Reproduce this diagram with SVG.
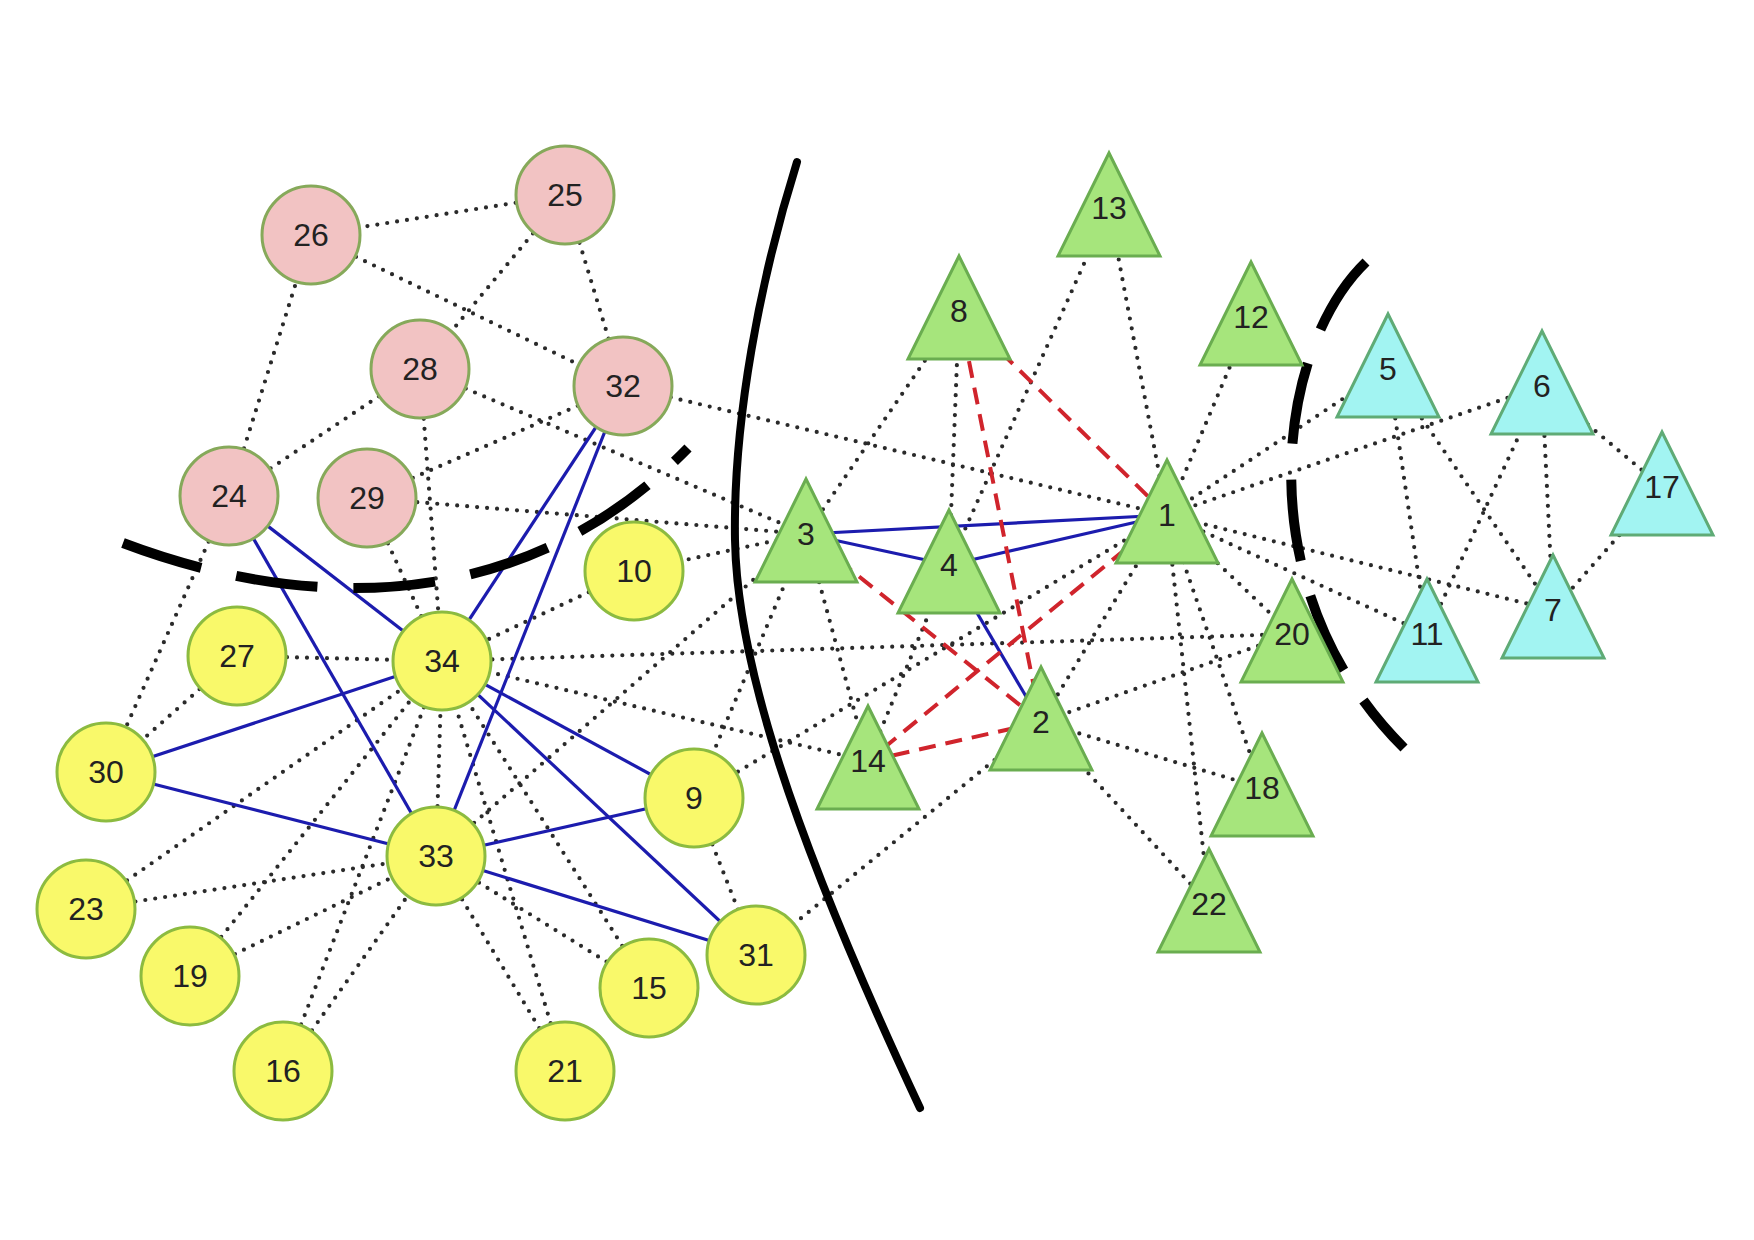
<svg xmlns="http://www.w3.org/2000/svg" width="1754" height="1240" viewBox="0 0 1754 1240">
<style>
.dot{stroke:#2a2a2a;stroke-width:4.2;stroke-dasharray:0 10;stroke-linecap:round;fill:none}
.blue{stroke:#1c1cae;stroke-width:3.2;fill:none}
.red{stroke:#d0242c;stroke-width:4;stroke-dasharray:17 10;fill:none}
.solid{stroke:#000;stroke-width:8;fill:none;stroke-linecap:round}
.dash{stroke:#000;stroke-width:10;fill:none;stroke-dasharray:82 36}
.pink{fill:#f2c3c3;stroke:#86a95a;stroke-width:3}
.yel{fill:#f9f96a;stroke:#8cbb40;stroke-width:3}
.grn{fill:#a6e57c;stroke:#6aad50;stroke-width:3}
.cyan{fill:#a2f4f2;stroke:#5fab76;stroke-width:3}
text{font-family:"Liberation Sans",Arial,sans-serif;font-size:32px;fill:#222;text-anchor:middle}
</style>
<rect width="1754" height="1240" fill="#fff"/>
<g id="connectors">
<g id="dotted-edges">
<line class="dot" x1="1167" y1="515" x2="1041" y2="722"/>
<line class="dot" x1="1167" y1="515" x2="1388" y2="369"/>
<line class="dot" x1="1167" y1="515" x2="1542" y2="386"/>
<line class="dot" x1="1167" y1="515" x2="1553" y2="610"/>
<line class="dot" x1="1167" y1="515" x2="694" y2="798"/>
<line class="dot" x1="1167" y1="515" x2="1427" y2="634"/>
<line class="dot" x1="1167" y1="515" x2="1251" y2="317"/>
<line class="dot" x1="1167" y1="515" x2="1109" y2="208"/>
<line class="dot" x1="1167" y1="515" x2="1262" y2="788"/>
<line class="dot" x1="1167" y1="515" x2="1292" y2="634"/>
<line class="dot" x1="1167" y1="515" x2="1209" y2="904"/>
<line class="dot" x1="1167" y1="515" x2="623" y2="386"/>
<line class="dot" x1="1041" y1="722" x2="1262" y2="788"/>
<line class="dot" x1="1041" y1="722" x2="1292" y2="634"/>
<line class="dot" x1="1041" y1="722" x2="1209" y2="904"/>
<line class="dot" x1="1041" y1="722" x2="756" y2="955"/>
<line class="dot" x1="806" y1="534" x2="959" y2="311"/>
<line class="dot" x1="806" y1="534" x2="694" y2="798"/>
<line class="dot" x1="806" y1="534" x2="634" y2="571"/>
<line class="dot" x1="806" y1="534" x2="868" y2="761"/>
<line class="dot" x1="806" y1="534" x2="420" y2="369"/>
<line class="dot" x1="806" y1="534" x2="367" y2="498"/>
<line class="dot" x1="806" y1="534" x2="436" y2="856"/>
<line class="dot" x1="949" y1="565" x2="959" y2="311"/>
<line class="dot" x1="949" y1="565" x2="1109" y2="208"/>
<line class="dot" x1="949" y1="565" x2="868" y2="761"/>
<line class="dot" x1="1388" y1="369" x2="1553" y2="610"/>
<line class="dot" x1="1388" y1="369" x2="1427" y2="634"/>
<line class="dot" x1="1542" y1="386" x2="1553" y2="610"/>
<line class="dot" x1="1542" y1="386" x2="1427" y2="634"/>
<line class="dot" x1="1542" y1="386" x2="1662" y2="487"/>
<line class="dot" x1="1553" y1="610" x2="1662" y2="487"/>
<line class="dot" x1="694" y1="798" x2="756" y2="955"/>
<line class="dot" x1="634" y1="571" x2="442" y2="661"/>
<line class="dot" x1="868" y1="761" x2="442" y2="661"/>
<line class="dot" x1="649" y1="988" x2="436" y2="856"/>
<line class="dot" x1="649" y1="988" x2="442" y2="661"/>
<line class="dot" x1="283" y1="1071" x2="436" y2="856"/>
<line class="dot" x1="283" y1="1071" x2="442" y2="661"/>
<line class="dot" x1="190" y1="976" x2="436" y2="856"/>
<line class="dot" x1="190" y1="976" x2="442" y2="661"/>
<line class="dot" x1="1292" y1="634" x2="442" y2="661"/>
<line class="dot" x1="565" y1="1071" x2="436" y2="856"/>
<line class="dot" x1="565" y1="1071" x2="442" y2="661"/>
<line class="dot" x1="86" y1="909" x2="436" y2="856"/>
<line class="dot" x1="86" y1="909" x2="442" y2="661"/>
<line class="dot" x1="229" y1="496" x2="311" y2="235"/>
<line class="dot" x1="229" y1="496" x2="420" y2="369"/>
<line class="dot" x1="229" y1="496" x2="106" y2="772"/>
<line class="dot" x1="565" y1="195" x2="311" y2="235"/>
<line class="dot" x1="565" y1="195" x2="420" y2="369"/>
<line class="dot" x1="565" y1="195" x2="623" y2="386"/>
<line class="dot" x1="311" y1="235" x2="623" y2="386"/>
<line class="dot" x1="237" y1="656" x2="106" y2="772"/>
<line class="dot" x1="237" y1="656" x2="442" y2="661"/>
<line class="dot" x1="420" y1="369" x2="442" y2="661"/>
<line class="dot" x1="367" y1="498" x2="623" y2="386"/>
<line class="dot" x1="367" y1="498" x2="442" y2="661"/>
<line class="dot" x1="436" y1="856" x2="442" y2="661"/>
</g>
<g id="blue-edges">
<line class="blue" x1="1167" y1="515" x2="806" y2="534"/>
<line class="blue" x1="1167" y1="515" x2="949" y2="565"/>
<line class="blue" x1="806" y1="534" x2="949" y2="565"/>
<line class="blue" x1="1041" y1="722" x2="949" y2="565"/>
<line class="blue" x1="229" y1="496" x2="442" y2="661"/>
<line class="blue" x1="229" y1="496" x2="436" y2="856"/>
<line class="blue" x1="623" y1="386" x2="442" y2="661"/>
<line class="blue" x1="623" y1="386" x2="436" y2="856"/>
<line class="blue" x1="106" y1="772" x2="442" y2="661"/>
<line class="blue" x1="106" y1="772" x2="436" y2="856"/>
<line class="blue" x1="694" y1="798" x2="442" y2="661"/>
<line class="blue" x1="694" y1="798" x2="436" y2="856"/>
<line class="blue" x1="756" y1="955" x2="442" y2="661"/>
<line class="blue" x1="756" y1="955" x2="436" y2="856"/>
</g>
<g id="red-edges">
<line class="red" x1="1167" y1="515" x2="959" y2="311"/>
<line class="red" x1="1041" y1="722" x2="959" y2="311"/>
<line class="red" x1="1041" y1="722" x2="806" y2="534"/>
<line class="red" x1="1167" y1="515" x2="868" y2="761"/>
<line class="red" x1="1041" y1="722" x2="868" y2="761"/>
</g>
</g>
<g id="partitions">
<path class="solid" d="M797,162 C760,280 733,420 735,540 S790,830 920,1108"/>
<path class="dash" d="M123,543 C300,610 520,620 688,448"/>
<path class="dash" d="M1366,262 C1275,350 1245,590 1404,748"/>
</g>
<g id="nodes">
<g id="node-25"><circle class="pink" cx="565" cy="195" r="49"/><text x="565" y="206">25</text></g>
<g id="node-26"><circle class="pink" cx="311" cy="235" r="49"/><text x="311" y="246">26</text></g>
<g id="node-28"><circle class="pink" cx="420" cy="369" r="49"/><text x="420" y="380">28</text></g>
<g id="node-32"><circle class="pink" cx="623" cy="386" r="49"/><text x="623" y="397">32</text></g>
<g id="node-24"><circle class="pink" cx="229" cy="496" r="49"/><text x="229" y="507">24</text></g>
<g id="node-29"><circle class="pink" cx="367" cy="498" r="49"/><text x="367" y="509">29</text></g>
<g id="node-10"><circle class="yel" cx="634" cy="571" r="49"/><text x="634" y="582">10</text></g>
<g id="node-27"><circle class="yel" cx="237" cy="656" r="49"/><text x="237" y="667">27</text></g>
<g id="node-34"><circle class="yel" cx="442" cy="661" r="49"/><text x="442" y="672">34</text></g>
<g id="node-30"><circle class="yel" cx="106" cy="772" r="49"/><text x="106" y="783">30</text></g>
<g id="node-9"><circle class="yel" cx="694" cy="798" r="49"/><text x="694" y="809">9</text></g>
<g id="node-33"><circle class="yel" cx="436" cy="856" r="49"/><text x="436" y="867">33</text></g>
<g id="node-23"><circle class="yel" cx="86" cy="909" r="49"/><text x="86" y="920">23</text></g>
<g id="node-19"><circle class="yel" cx="190" cy="976" r="49"/><text x="190" y="987">19</text></g>
<g id="node-31"><circle class="yel" cx="756" cy="955" r="49"/><text x="756" y="966">31</text></g>
<g id="node-15"><circle class="yel" cx="649" cy="988" r="49"/><text x="649" y="999">15</text></g>
<g id="node-16"><circle class="yel" cx="283" cy="1071" r="49"/><text x="283" y="1082">16</text></g>
<g id="node-21"><circle class="yel" cx="565" cy="1071" r="49"/><text x="565" y="1082">21</text></g>
<g id="node-13"><polygon class="grn" points="1109,153 1058,256 1160,256"/><text x="1109" y="219">13</text></g>
<g id="node-8"><polygon class="grn" points="959,256 908,359 1010,359"/><text x="959" y="322">8</text></g>
<g id="node-12"><polygon class="grn" points="1251,262 1200,365 1302,365"/><text x="1251" y="328">12</text></g>
<g id="node-1"><polygon class="grn" points="1167,460 1116,563 1218,563"/><text x="1167" y="526">1</text></g>
<g id="node-3"><polygon class="grn" points="806,479 755,582 857,582"/><text x="806" y="545">3</text></g>
<g id="node-4"><polygon class="grn" points="949,510 898,613 1000,613"/><text x="949" y="576">4</text></g>
<g id="node-20"><polygon class="grn" points="1292,579 1241,682 1343,682"/><text x="1292" y="645">20</text></g>
<g id="node-2"><polygon class="grn" points="1041,667 990,770 1092,770"/><text x="1041" y="733">2</text></g>
<g id="node-14"><polygon class="grn" points="868,706 817,809 919,809"/><text x="868" y="772">14</text></g>
<g id="node-18"><polygon class="grn" points="1262,733 1211,836 1313,836"/><text x="1262" y="799">18</text></g>
<g id="node-22"><polygon class="grn" points="1209,849 1158,952 1260,952"/><text x="1209" y="915">22</text></g>
<g id="node-5"><polygon class="cyan" points="1388,314 1337,417 1439,417"/><text x="1388" y="380">5</text></g>
<g id="node-6"><polygon class="cyan" points="1542,331 1491,434 1593,434"/><text x="1542" y="397">6</text></g>
<g id="node-17"><polygon class="cyan" points="1662,432 1611,535 1713,535"/><text x="1662" y="498">17</text></g>
<g id="node-11"><polygon class="cyan" points="1427,579 1376,682 1478,682"/><text x="1427" y="645">11</text></g>
<g id="node-7"><polygon class="cyan" points="1553,555 1502,658 1604,658"/><text x="1553" y="621">7</text></g>
</g>
</svg>
